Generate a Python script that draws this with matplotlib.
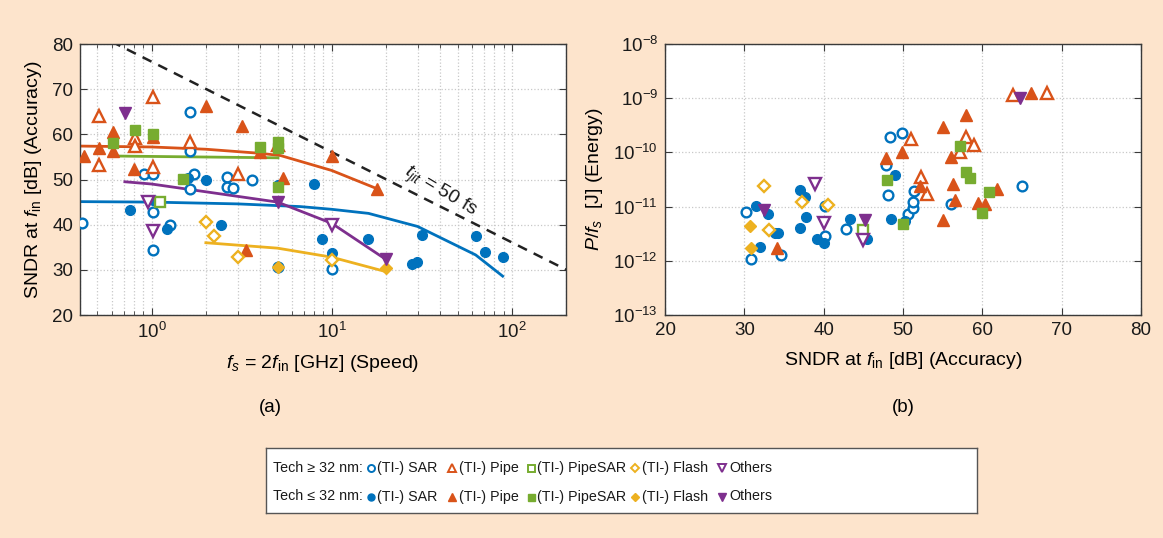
import numpy as np
import matplotlib
matplotlib.use("Agg")
import matplotlib.pyplot as plt
from matplotlib.ticker import LogLocator, LogFormatterMathtext, NullFormatter, FixedLocator

plt.rcParams['font.family'] = ['Liberation Sans', 'DejaVu Sans']
plt.rcParams['mathtext.fontset'] = 'custom'
plt.rcParams['mathtext.rm'] = 'Liberation Sans'
plt.rcParams['mathtext.it'] = 'Liberation Sans:italic'
plt.rcParams['mathtext.bf'] = 'Liberation Sans:bold'

# ---------------- colours ----------------
C_SAR = '#0072BD'
C_PIPE = '#D95319'
C_PSAR = '#77AC30'
C_FLASH = '#EDB120'
C_OTH = '#7E2F8E'
BG = '#fde4cc'

# ---------------- (a) data: fs [GHz], SNDR [dB] ----------------
a_sar_open_fs = [0.41, 0.91, 1.02, 1.02, 1.02, 1.26, 1.63, 1.63, 1.63, 1.72, 2.61, 2.61, 2.84, 3.59, 5.03, 10.0]
a_sar_open_db = [40.3, 51.2, 51.2, 42.7, 34.4, 39.9, 65.0, 56.2, 47.9, 51.2, 50.6, 48.4, 48.2, 50.0, 30.7, 30.2]
a_sar_fill_fs = [0.76, 1.02, 1.21, 1.60, 2.01, 2.42, 5.03, 8.0, 8.8, 10.0, 16.0, 27.8, 29.9, 31.9, 63.6, 71.1, 88.8]
a_sar_fill_db = [43.3, 45.5, 39.0, 50.4, 50.0, 40.0, 48.8, 48.9, 36.8, 33.8, 36.8, 31.2, 31.8, 37.7, 37.5, 34.0, 32.8]
a_pipe_open_fs = [0.51, 0.51, 0.81, 0.81, 1.02, 1.02, 1.63, 3.0, 5.03]
a_pipe_open_db = [64.1, 53.2, 59.1, 57.4, 68.2, 52.7, 58.2, 51.2, 57.7]
a_pipe_fill_fs = [0.42, 0.51, 0.61, 0.61, 0.80, 1.02, 2.01, 3.19, 3.33, 4.0, 5.39, 10.0, 17.9]
a_pipe_fill_db = [55.2, 56.9, 60.5, 56.4, 52.3, 59.5, 66.3, 61.8, 34.3, 56.0, 50.3, 55.1, 47.9]
a_psar_open_fs = [1.11]
a_psar_open_db = [45.0]
a_psar_fill_fs = [0.61, 0.81, 1.02, 1.50, 4.0, 5.03, 5.03, 5.03]
a_psar_fill_db = [58.0, 61.0, 60.0, 50.2, 57.3, 58.4, 56.9, 48.3]
a_flash_open_fs = [2.01, 2.22, 3.0, 10.0]
a_flash_open_db = [40.5, 37.4, 32.8, 32.2]
a_flash_fill_fs = [5.03, 20.0]
a_flash_fill_db = [30.7, 30.3]
a_oth_open_fs = [0.95, 1.02, 10.0]
a_oth_open_db = [45.0, 38.7, 39.9]
a_oth_fill_fs = [0.71, 5.03, 20.0]
a_oth_fill_db = [64.7, 45.0, 32.3]

# trend lines
tr_pipe_fs = [0.4, 1.0, 2.0, 4.0, 5.2, 10.0, 18.0]
tr_pipe_db = [57.4, 57.2, 56.7, 55.8, 55.3, 52.0, 47.9]
tr_psar_fs = [0.61, 5.03]
tr_psar_db = [55.2, 54.8]
tr_sar_fs = [0.4, 1.0, 3.0, 6.7, 10.0, 16.0, 30.0, 63.0, 89.0]
tr_sar_db = [45.1, 45.0, 44.6, 44.0, 43.4, 42.5, 39.6, 33.3, 28.6]
tr_oth_fs = [0.71, 1.0, 5.0, 10.0, 20.0]
tr_oth_db = [49.5, 49.0, 45.0, 40.3, 32.3]
tr_flash_fs = [2.0, 5.0, 10.0, 20.0]
tr_flash_db = [36.0, 34.8, 32.8, 29.6]

jitter_s = 50e-15

# ---------------- (b) data: SNDR [dB], P/fs [J] ----------------
b_sar_open_db = [30.2, 30.8, 34.6, 40.2, 40.2, 42.8, 47.9, 48.1, 48.4, 49.9, 50.6, 51.2, 51.2, 51.4, 56.1, 65.0]
b_sar_open_e = [7.94e-12, 1.10e-12, 1.26e-12, 1.02e-11, 2.88e-12, 3.80e-12, 5.75e-11, 1.62e-11,
                1.91e-10, 2.24e-10, 7.24e-12, 9.33e-12, 1.23e-11, 1.95e-11, 1.10e-11, 2.40e-11]
b_sar_fill_db = [31.5, 32.0, 33.0, 33.9, 34.3, 37.0, 37.6, 37.8, 37.0, 39.2, 40.1, 43.3, 45.5, 48.5, 49.0, 50.2]
b_sar_fill_e = [1.02e-11, 1.78e-12, 7.41e-12, 3.24e-12, 3.24e-12, 2.00e-11, 1.51e-11, 6.31e-12,
                4.07e-12, 2.57e-12, 2.09e-12, 6.03e-12, 2.57e-12, 6.03e-12, 3.80e-11, 5.37e-12]
b_pipe_open_db = [51.0, 52.3, 53.0, 57.2, 58.0, 59.0, 63.9, 68.1]
b_pipe_open_e = [1.78e-10, 3.55e-11, 1.74e-11, 1.00e-10, 1.91e-10, 1.38e-10, 1.17e-9, 1.26e-9]
b_pipe_fill_db = [34.1, 47.9, 49.9, 52.2, 55.0, 55.0, 56.0, 56.3, 56.6, 58.0, 59.5, 60.3, 61.8, 66.1]
b_pipe_fill_e = [1.74e-12, 7.76e-11, 1.00e-10, 2.45e-11, 2.95e-10, 5.62e-12, 8.13e-11, 2.57e-11,
                 1.32e-11, 4.90e-10, 1.17e-11, 1.10e-11, 2.09e-11, 1.26e-9]
b_psar_open_db = [45.0]
b_psar_open_e = [3.63e-12]
b_psar_fill_db = [48.0, 50.0, 57.2, 58.0, 58.5, 60.0, 60.9]
b_psar_fill_e = [3.16e-11, 4.68e-12, 1.32e-10, 4.37e-11, 3.31e-11, 7.76e-12, 1.86e-11]
b_flash_open_db = [32.5, 33.1, 37.3, 40.6]
b_flash_open_e = [2.40e-11, 3.63e-12, 1.23e-11, 1.07e-11]
b_flash_fill_db = [30.7, 30.8]
b_flash_fill_e = [4.47e-12, 1.70e-12]
b_oth_open_db = [38.9, 40.1, 44.9]
b_oth_open_e = [2.57e-11, 5.01e-12, 2.40e-12]
b_oth_fill_db = [32.5, 45.2, 64.8]
b_oth_fill_e = [8.71e-12, 5.75e-12, 1.02e-9]

type_labels = ['(TI-) SAR', '(TI-) Pipe', '(TI-) PipeSAR', '(TI-) Flash', 'Others']
row_labels = ['Tech \u2265 32 nm:', 'Tech \u2264 32 nm:']

# style: marker, size, colour
STY = {'sar': ('o', 7, C_SAR), 'pipe': ('^', 8.5, C_PIPE), 'psar': ('s', 7, C_PSAR),
       'flash': ('D', 5.8, C_FLASH), 'oth': ('v', 8.5, C_OTH)}
kinds = ['sar', 'pipe', 'psar', 'flash', 'oth']


def mark(ax, x, y, kind, filled, z=3):
    m, s, c = STY[kind]
    if filled:
        ax.plot(x, y, ls='none', marker=m, ms=s, mfc=c, mec=c, mew=1.0, zorder=z)
    else:
        ax.plot(x, y, ls='none', marker=m, ms=s, mfc='white', mec=c, mew=1.7, zorder=z)


fig = plt.figure(figsize=(11.63, 5.38), dpi=100, facecolor=BG)

W, H = 1163, 538
axa = fig.add_axes([80 / W, 1 - 315 / H, 486 / W, 271 / H])
axb = fig.add_axes([665 / W, 1 - 315 / H, 476 / W, 271 / H])

EDGE = '#3a3a3a'
for ax in (axa, axb):
    ax.set_facecolor('white')
    for sp in ax.spines.values():
        sp.set_color(EDGE)
        sp.set_linewidth(1.0)
    ax.tick_params(which='both', direction='in', top=True, right=True, color=EDGE,
                   labelsize=13.5, labelcolor='#1a1a1a', pad=5)
    ax.tick_params(which='major', length=5)
    ax.tick_params(which='minor', length=3)

# ---------------- panel (a) ----------------
axa.set_xscale('log')
axa.set_xlim(0.4, 200)
axa.set_ylim(20, 80)
axa.set_yticks(range(20, 81, 10))
axa.xaxis.set_major_locator(LogLocator(base=10, numticks=10))
axa.xaxis.set_major_formatter(LogFormatterMathtext())
axa.xaxis.set_minor_locator(LogLocator(base=10, subs=np.arange(2, 10), numticks=20))
axa.xaxis.set_minor_formatter(NullFormatter())
axa.grid(True, which='both', axis='x', ls=':', color='#c8c8c8', lw=0.9)
axa.grid(True, which='major', axis='y', ls=':', color='#c8c8c8', lw=0.9)
axa.set_axisbelow(True)

# jitter limit
fs_line = np.logspace(np.log10(0.4), np.log10(200), 200)
sndr_jit = -20 * np.log10(2 * np.pi * (fs_line * 1e9 / 2) * jitter_s)
axa.plot(fs_line, sndr_jit, ls=(0, (4, 3)), color='#222222', lw=1.8, zorder=2)
axa.text(40, 47.2, r'$t_{jit}$ = 50 fs', rotation=-31, fontsize=14, color='#1a1a1a',
         ha='center', va='center', zorder=4)

# trend lines
axa.plot(tr_pipe_fs, tr_pipe_db, color=C_PIPE, lw=2, zorder=2.5)
axa.plot(tr_psar_fs, tr_psar_db, color=C_PSAR, lw=2, zorder=2.5)
axa.plot(tr_sar_fs, tr_sar_db, color=C_SAR, lw=2, zorder=2.5)
axa.plot(tr_oth_fs, tr_oth_db, color=C_OTH, lw=2, zorder=2.5)
axa.plot(tr_flash_fs, tr_flash_db, color=C_FLASH, lw=2, zorder=2.5)

a_sets = [
    ('sar', False, a_sar_open_fs, a_sar_open_db), ('sar', True, a_sar_fill_fs, a_sar_fill_db),
    ('pipe', False, a_pipe_open_fs, a_pipe_open_db), ('pipe', True, a_pipe_fill_fs, a_pipe_fill_db),
    ('psar', False, a_psar_open_fs, a_psar_open_db), ('psar', True, a_psar_fill_fs, a_psar_fill_db),
    ('flash', False, a_flash_open_fs, a_flash_open_db), ('flash', True, a_flash_fill_fs, a_flash_fill_db),
    ('oth', False, a_oth_open_fs, a_oth_open_db), ('oth', True, a_oth_fill_fs, a_oth_fill_db),
]
for k, f, x, y in a_sets:
    mark(axa, x, y, k, f)

axa.set_xlabel(r'$f_s$ = 2$f_{\rm in}$ [GHz] (Speed)', fontsize=14, labelpad=8)
axa.set_ylabel(r'SNDR at $f_{\rm in}$ [dB] (Accuracy)', fontsize=14, labelpad=6)

# ---------------- panel (b) ----------------
axb.set_yscale('log')
axb.set_xlim(20, 80)
axb.set_ylim(1e-13, 1e-8)
axb.set_xticks(range(20, 81, 10))
axb.yaxis.set_major_locator(LogLocator(base=10, numticks=10))
axb.yaxis.set_major_formatter(LogFormatterMathtext())
axb.yaxis.set_minor_locator(FixedLocator([]))
axb.grid(True, which='major', ls=':', color='#c8c8c8', lw=0.9)
axb.set_axisbelow(True)

b_sets = [
    ('sar', False, b_sar_open_db, b_sar_open_e), ('sar', True, b_sar_fill_db, b_sar_fill_e),
    ('pipe', False, b_pipe_open_db, b_pipe_open_e), ('pipe', True, b_pipe_fill_db, b_pipe_fill_e),
    ('psar', False, b_psar_open_db, b_psar_open_e), ('psar', True, b_psar_fill_db, b_psar_fill_e),
    ('flash', False, b_flash_open_db, b_flash_open_e), ('flash', True, b_flash_fill_db, b_flash_fill_e),
    ('oth', False, b_oth_open_db, b_oth_open_e), ('oth', True, b_oth_fill_db, b_oth_fill_e),
]
for k, f, x, y in b_sets:
    mark(axb, x, y, k, f)

axb.set_xlabel(r'SNDR at $f_{\rm in}$ [dB] (Accuracy)', fontsize=14, labelpad=8)
axb.set_ylabel(r'$P/f_s$  [J] (Energy)', fontsize=14, labelpad=6)

fig.text(270 / W, 1 - 407 / H, '(a)', fontsize=13.5, ha='center', va='center')
fig.text(903 / W, 1 - 407 / H, '(b)', fontsize=13.5, ha='center', va='center')

# ---------------- legend box ----------------
lg = fig.add_axes([266 / W, 1 - 513 / H, (977 - 266) / W, (513 - 448) / H])
lg.set_xlim(266, 977)
lg.set_ylim(513, 448)
lg.set_facecolor('white')
lg.set_xticks([])
lg.set_yticks([])
for sp in lg.spines.values():
    sp.set_color('#555555')
    sp.set_linewidth(1.0)

LEG_FS = 10.3
row_y = [468, 496.5]
marker_x = [371, 452, 531, 635, 722]
text_x = [377, 459, 537, 642, 729]
for r, (ry, rl) in enumerate(zip(row_y, row_labels)):
    lg.text(273, ry, rl, fontsize=LEG_FS, ha='left', va='center', color='#1a1a1a')
    for k, mx, tx, tl in zip(kinds, marker_x, text_x, type_labels):
        m, s, c = STY[k]
        ss = s * 0.72
        if r == 1:
            lg.plot([mx], [ry], ls='none', marker=m, ms=ss, mfc=c, mec=c, mew=1.0)
        else:
            lg.plot([mx], [ry], ls='none', marker=m, ms=ss, mfc='white', mec=c, mew=1.4)
        lg.text(tx, ry, tl, fontsize=LEG_FS, ha='left', va='center', color='#1a1a1a')

fig.savefig('out.png', dpi=100, facecolor=BG)
